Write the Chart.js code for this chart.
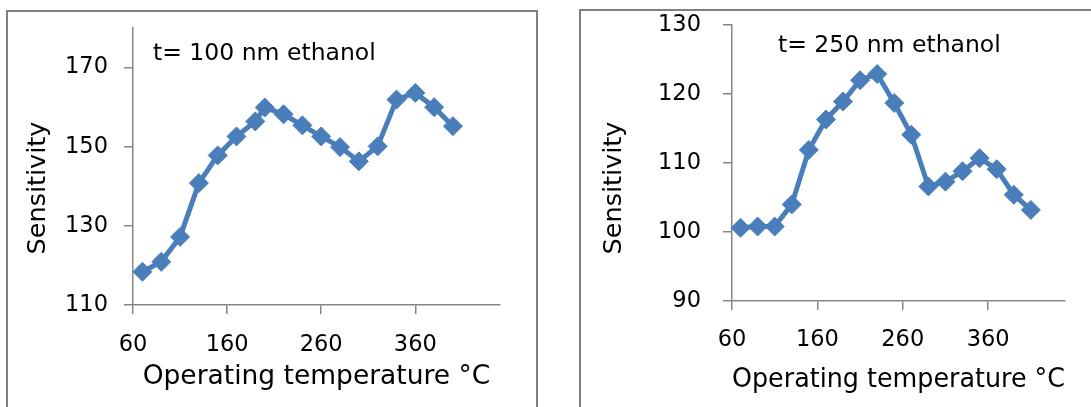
<!DOCTYPE html>
<html>
<head>
<meta charset="utf-8">
<title>Sensitivity vs operating temperature</title>
<script src="https://cdn.jsdelivr.net/npm/chart.js@4.4.0/dist/chart.umd.min.js"></script>
<style>
  html,body{margin:0;padding:0;background:#fff;}
  body{width:1091px;height:407px;position:relative;overflow:hidden;}
  .panel{position:absolute;border:2px solid #7f7f7f;box-sizing:border-box;}
  #p1{left:6px;top:10px;width:532px;height:420px;}
  #p2{left:579px;top:9px;width:540px;height:420px;}
  canvas{position:absolute;top:0;}
  #c1{left:0;}
  #c2{left:545px;}
</style>
</head>
<body>
<div class="panel" id="p1"></div>
<div class="panel" id="p2"></div>
<canvas id="c1" width="545" height="407"></canvas>
<canvas id="c2" width="546" height="407"></canvas>
<script>
// data
const temps100 = [70, 90, 110, 130, 150, 170, 190, 200, 220, 240, 260, 280, 300, 320, 340, 360, 380, 400];
const sens100 = [118.4, 120.9, 127.2, 140.8, 147.8, 152.6, 156.4, 159.9, 158.2, 155.4, 152.6, 149.9, 146.3, 150.1, 161.9, 163.6, 160.0, 155.2];
const temps250 = [70, 90, 110, 130, 150, 170, 190, 210, 230, 250, 270, 290, 310, 330, 350, 370, 390, 410];
const sens250 = [100.6, 100.8, 100.8, 104.0, 111.9, 116.3, 118.9, 122.0, 122.9, 118.7, 114.1, 106.6, 107.3, 108.8, 110.7, 109.1, 105.4, 103.2];
const xTicks = [60, 160, 260, 360];
const yTicks100 = [110, 130, 150, 170];
const yTicks250 = [90, 100, 110, 120, 130];
const note100 = 't= 100 nm ethanol';
const note250 = 't= 250 nm ethanol';
const xTitle = 'Operating temperature \u00B0C';
const yTitle = 'Sensitivity';

const FONT = '"DejaVu Sans", Verdana, sans-serif';
const BLUE = '#4a7ebb';
const AXIS = '#868686';

// annotation + rotated y title, drawn on the chart canvas
const panelText = {
  id: 'panelText',
  afterDraw(chart, args, o){
    const ctx = chart.ctx;
    ctx.save();
    ctx.fillStyle = '#000';
    ctx.font = '23.5px ' + FONT;
    ctx.textAlign = 'left'; ctx.textBaseline = 'alphabetic';
    ctx.fillText(o.note, o.noteX, o.noteY);
    ctx.translate(o.titleX, o.titleY);
    ctx.rotate(-Math.PI/2);
    ctx.font = '25.5px ' + FONT;
    ctx.textAlign = 'center'; ctx.textBaseline = 'middle';
    ctx.fillText(yTitle, 0, 0);
    ctx.restore();
  }
};

function makeChart(id, xs, ys, yTicks, cfg){
  const pts = xs.map((x, i) => ({x: x, y: ys[i]}));
  return new Chart(document.getElementById(id), {
    type: 'line',
    data: { datasets: [{
      data: pts,
      borderColor: BLUE, borderWidth: 5, tension: 0,
      pointStyle: 'rectRot', pointRadius: 9.5,
      pointBackgroundColor: BLUE, pointBorderColor: BLUE, pointBorderWidth: 1,
      clip: false
    }]},
    options: {
      responsive: false, animation: false,
      layout: { padding: cfg.pad },
      plugins: {
        legend: {display: false}, tooltip: {enabled: false},
        panelText: cfg.text
      },
      scales: {
        x: {
          type: 'linear', min: 60, max: 450,
          afterBuildTicks: s => { s.ticks = xTicks.map(v => ({value: v})); },
          afterFit: s => { s.height = cfg.xH; },
          grid: {drawOnChartArea: false, tickLength: 9, color: AXIS, lineWidth: 1.5},
          border: {color: AXIS, width: 1.5},
          ticks: {color: '#000', font: {family: FONT, size: 22.5}, padding: cfg.xPad, maxRotation: 0},
          title: {display: true, text: xTitle, color: '#000', font: {family: FONT, size: 26.5}, padding: {top: 4, bottom: cfg.titlePad}}
        },
        y: {
          type: 'linear', min: yTicks[0], max: cfg.yMax,
          afterBuildTicks: s => { s.ticks = yTicks.map(v => ({value: v})); },
          // fixed width, and no extra room for the end labels (plot box is set by layout padding)
          afterFit: s => { s.width = cfg.yW; s.paddingTop = 0; s.paddingBottom = 0; },
          grid: {drawOnChartArea: false, tickLength: 9, color: AXIS, lineWidth: 1.5},
          border: {color: AXIS, width: 1.5},
          ticks: {color: '#000', font: {family: FONT, size: 22.5}, padding: cfg.yPad}
        }
      }
    },
    plugins: [panelText]
  });
}

makeChart('c1', temps100, sens100, yTicks100, {
  yMax: 180, pad: {left: 0, top: 28, right: 45, bottom: 0},
  yW: 133, xH: 102, xPad: 18, yPad: 16, titlePad: 14,
  text: {note: note100, noteX: 153, noteY: 60, titleX: 38, titleY: 188}
});
makeChart('c2', temps250, sens250, yTicks250, {
  yMax: 130, pad: {left: 0, top: 25, right: 26, bottom: 0},
  yW: 187, xH: 106, xPad: 17, yPad: 22, titlePad: 11,
  text: {note: note250, noteX: 233, noteY: 52, titleX: 69, titleY: 188}
});
</script>
</body>
</html>
